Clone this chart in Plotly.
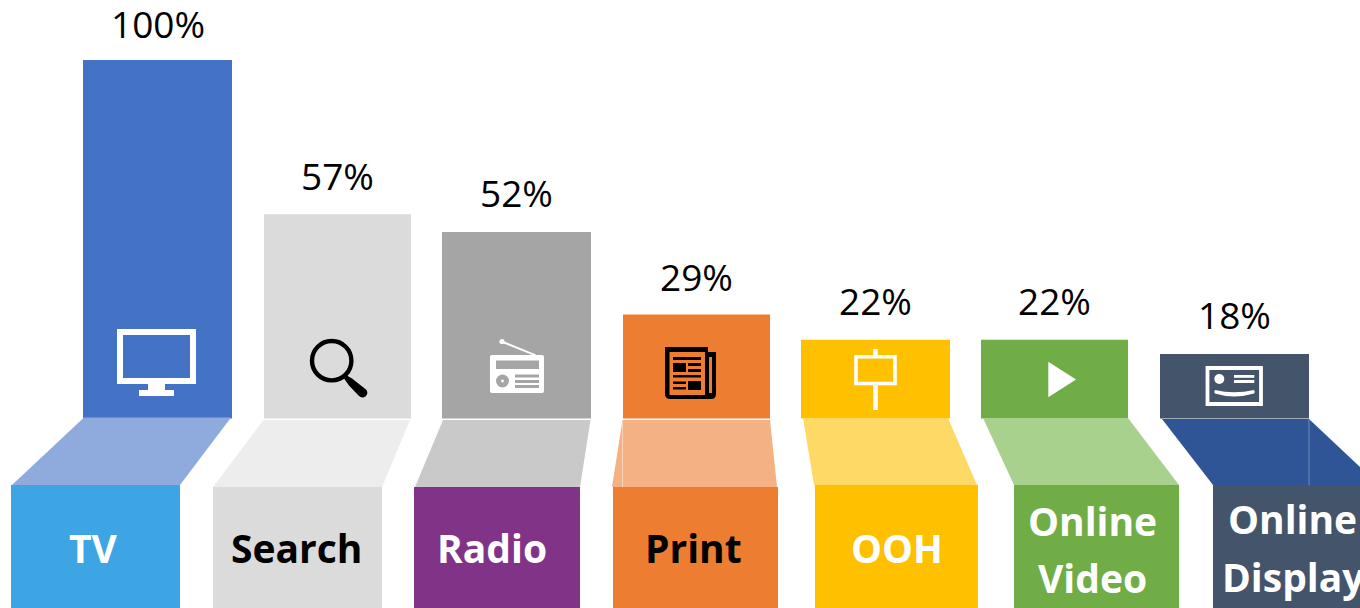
import plotly.graph_objects as go

# ---- data ----
categories = ["TV", "Search", "Radio", "Print", "OOH", "Online Video", "Online Display"]
values = [100, 57, 52, 29, 22, 22, 18]
value_labels = ["100%", "57%", "52%", "29%", "22%", "22%", "18%"]

# ---- geometry (page pixels) ----
bar_left = [83, 264, 442, 623, 801, 981, 1160]
bar_right = [232, 411, 591, 770, 950, 1128, 1309]
box_left = [11, 213, 414, 613, 815, 1014, 1213]
box_right = [180, 382, 580, 778, 978, 1179, 1400]
box_top = [485, 487, 487, 487, 485, 485, 485]
trap_top_y = [417.5, 420, 420, 420, 418, 418, 419]
trap_top_l = [84, 263.5, 443, 622.5, 803, 983, 1162]
trap_top_r = [231, 410, 590.5, 770, 948, 1128, 1309]
trap_bot_l = [12, 213, 415, 612, 814, 1014, 1213]
trap_bot_r = [180, 382, 580, 777, 977, 1179, 1379]
label_shift = [9, 11, 12, 11, 12, 12, 12]

# ---- styles ----
bar_colors = ["#4472C4", "#DBDBDB", "#A5A5A5", "#ED7D31", "#FFC000", "#70AD47", "#44546A"]
box_colors = ["#3DA5E3", "#DBDBDB", "#813487", "#ED7D31", "#FFC000", "#70AD47", "#44546A"]
trap_colors = ["#8FAADC", "#EDEDED", "#C9C9C9", "#F4B183", "#FFD966", "#A9D18E", "#2F5597"]
label_lines = [
    ("TV", 93.5, 547, "white"), ("Search", 296.5, 547, "black"), ("Radio", 492, 547, "white"),
    ("Print", 693.5, 547, "black"), ("OOH", 897, 547, "white"),
    ("Online", 1092, 520, "white"), ("Video", 1092, 577, "white"),
    ("Online", 1292, 518, "white"), ("Display", 1293, 576, "white"),
]
LABEL_FONT = "Open Sans"
PX_PER_PCT = 3.585
BASE_PX = 418.5

fig = go.Figure()

# percent bars, on the value axis
fig.add_bar(
    x=[(l + r) / 2 for l, r in zip(bar_left, bar_right)],
    y=values,
    width=[r - l for l, r in zip(bar_left, bar_right)],
    marker=dict(color=bar_colors, line_width=0),
    hovertext=categories, hoverinfo="text+y", yaxis="y",
)
# label boxes on the page-pixel axis
fig.add_bar(
    x=[(l + r) / 2 for l, r in zip(box_left, box_right)],
    y=[608 - t for t in box_top],
    base=box_top,
    width=[r - l for l, r in zip(box_left, box_right)],
    marker=dict(color=box_colors, line_width=0),
    hoverinfo="skip", yaxis="y2",
)
# perspective panels
for i, c in enumerate(trap_colors):
    fig.add_scatter(
        x=[trap_top_l[i], trap_top_r[i], trap_bot_r[i], trap_bot_l[i]],
        y=[trap_top_y[i], trap_top_y[i], box_top[i], box_top[i]],
        mode="none", fill="toself", fillcolor=c, hoverinfo="skip", yaxis="y2",
    )

W = "white"; K = "black"
def rect(x0, y0, x1, y1, fill):
    return dict(type="rect", xref="x", yref="y2", x0=x0, y0=y0, x1=x1, y1=y1,
                fillcolor=fill, line_width=0, layer="above")
def circ(cx, cy, r, fill=None, lw=0, lc=None):
    return dict(type="circle", xref="x", yref="y2", x0=cx - r, y0=cy - r, x1=cx + r, y1=cy + r,
                fillcolor=fill or "rgba(0,0,0,0)", line=dict(width=lw, color=lc or "rgba(0,0,0,0)"), layer="above")
def path(d, fill=None, lw=0, lc=None):
    return dict(type="path", xref="x", yref="y2", path=d,
                fillcolor=fill or "rgba(0,0,0,0)", line=dict(width=lw, color=lc or "rgba(0,0,0,0)"), layer="above")

shapes = []
# seams
shapes += [rect(1308.5, 419, 1309.5, 485, "#6F8BBD"), rect(622, 420, 623, 487, "#F9D3B8")]
# TV icon
shapes += [path("M120,332 H193 V381 H120 Z", None, 6, W),
           path("M120,329 H193 Q196,329 196,332 V381 Q196,384 193,384 H120 Q117,384 117,381 V332 Q117,329 120,329 Z "
                "M123,335 V378 H190 V335 Z", W),
           rect(148, 383, 165, 391, W), rect(139, 390, 174, 396, W)]
# search icon
shapes += [circ(331.7, 360.7, 19.7, None, 4.4, K),
           path("M345,374.5 L352,378.5 L366,389.5 Q369,393 365.5,396.5 Q362,399 358.5,395.5 L349,385.5 L343,377 Z", K)]
# radio icon
G = "#A5A5A5"
shapes += [path("M492,355 H542 Q544,355 544,357 V391 Q544,393 542,393 H492 Q490,393 490,391 V357 Q490,355 492,355 Z", W),
           rect(496, 360.5, 539, 369, G), circ(502.5, 381, 6.5, G), circ(502.5, 381, 1.4, W),
           rect(515, 374.5, 539, 377.5, G), rect(515, 380, 539, 383, G), rect(515, 385, 539, 388, G),
           circ(502, 341.5, 2.6, W), path("M502,340.5 L536,354.5 L535,356 L501,342.5 Z", W)]
# print icon
O = "#ED7D31"
shapes += [path("M665,347 H708 V352 H716 V394 Q716,399 711,399 H670 Q665,399 665,394 Z", K),
           rect(669.5, 352, 705, 395, O), rect(709, 357, 712, 393, O),
           rect(673, 357, 701, 360, K), rect(673, 363, 686, 372, K),
           rect(688, 363, 701, 366, K), rect(688, 369, 701, 372, K),
           rect(673, 375, 701, 377.5, K), rect(673, 381.5, 686, 384, K), rect(673, 387, 686, 389.5, K),
           rect(688, 381, 701, 390, K)]
# OOH icon
shapes += [path("M856,356.8 H895 V383.5 H856 Z", None, 3.6, W), rect(873.2, 349, 877.8, 356, W), rect(873.2, 385, 877.8, 410, W)]
# video icon
shapes += [path("M1048.3,361.7 L1076,379.5 L1048.3,397.3 Z", W)]
# display icon
shapes += [path("M1207.5,368 H1261 V404 H1207.5 Z", None, 3.8, W), circ(1219.3, 379, 5, W),
           rect(1234, 375, 1254.3, 377.8, W), rect(1234, 380, 1254.3, 383, W),
           path("M1215,390 Q1234,394.5 1254,390 Q1255.5,392 1254,393.5 Q1234,399.5 1215,393.5 Q1213.5,392 1215,390 Z", W)]

anns = []
for t, l, r, v, s in zip(value_labels, bar_left, bar_right, values, label_shift):
    anns.append(dict(x=(l + r) / 2, y=v, xref="x", yref="y", text=t, showarrow=False, yanchor="bottom",
                     yshift=s, font=dict(family=LABEL_FONT, size=37, color="black")))
for t, x, y, c in label_lines:
    anns.append(dict(x=x, y=y, xref="x", yref="y2", text=t, showarrow=False,
                     font=dict(family=LABEL_FONT, size=39, color=c, weight=700)))

fig.update_layout(
    width=1360, height=608, margin=dict(l=0, r=0, t=0, b=0), showlegend=False,
    barmode="overlay", paper_bgcolor="white", plot_bgcolor="white",
    xaxis=dict(range=[0, 1360], visible=False, fixedrange=True),
    yaxis=dict(range=[(BASE_PX - 608) / PX_PER_PCT, BASE_PX / PX_PER_PCT], visible=False, fixedrange=True),
    yaxis2=dict(range=[608, 0], overlaying="y", visible=False, fixedrange=True),
    shapes=shapes, annotations=anns,
)
fig.write_html("out.html", config={"displayModeBar": False},
               post_script="document.body.style.margin='0';document.body.style.overflow='hidden';")
